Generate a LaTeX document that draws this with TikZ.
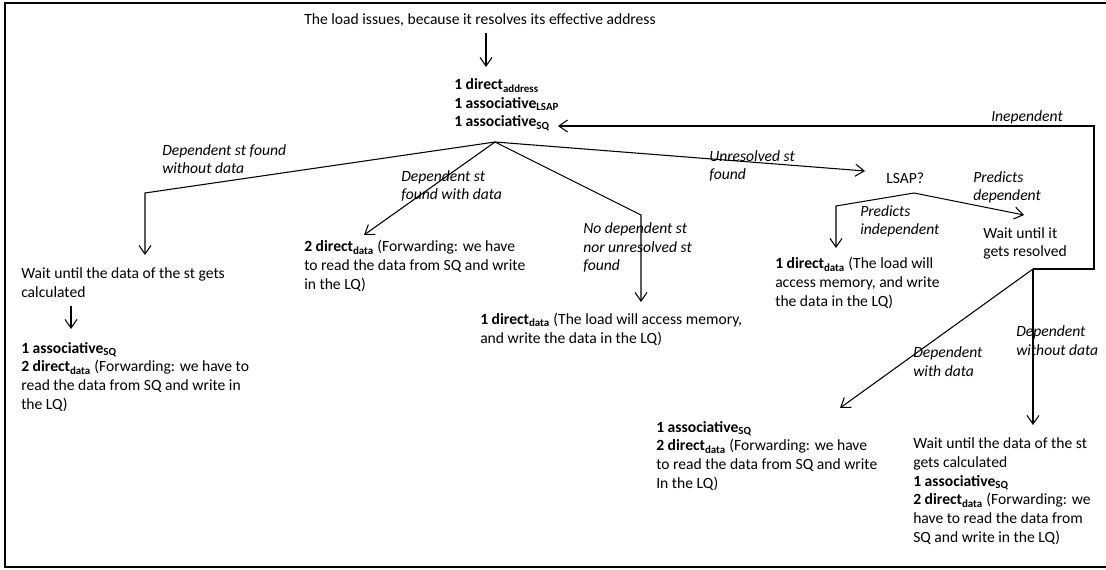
\documentclass[tikz,border=0pt]{standalone}
\usepackage{fontspec}
\setmainfont{Carlito}
\usetikzlibrary{arrows.meta}
\newcommand\subtx[1]{\textsubscript{\bfseries #1}}

\begin{document}
\begin{tikzpicture}[x=0.75pt,y=-0.75pt,
  txt/.style={anchor=base west,inner sep=0pt,align=left,font=\fontsize{11.7}{14}\selectfont},
  lbl/.style={txt,font=\fontsize{11.7}{14}\selectfont\itshape},
  flow/.style={line width=0.8pt,-{Straight Barb[length=6.5pt,width=9pt]}},
  seg/.style={line width=0.8pt}]
\useasboundingbox (0,0) rectangle (1106,570);
% Frame (open on the right)
\draw[line width=1.6pt] (1106,3) -- (5,3) -- (5,567) -- (1106,567);

% Load issue and first lookups (nodes placed by their last baseline)
\node[txt] (issue) at (304,25) {The load issues, because it resolves its effective address};
\node[txt] (ops) at (454,127) {\textbf{1 direct}\subtx{address}\\\textbf{1 associative}\subtx{LSAP}\\\textbf{1 associative}\subtx{SQ}};
\coordinate (issueOut) at (486,33);
\coordinate (opsIn) at (486,67);
\draw[flow] (issueOut) -- (opsIn);

% Branches from the SQ lookup
\coordinate (apex) at (495,142);
\coordinate (bendL) at (145,193);
\coordinate (bendM) at (641,215);
\node[lbl] (lblWithout) at (162,174) {Dependent st found\\without data};
\node[lbl] (lblWith) at (401,200) {Dependent st\\found with data};
\node[lbl] (lblNone) at (583,271) {No dependent st\\nor unresolved st\\found};
\node[lbl] (lblUnres) at (709,180) {Unresolved st\\found};

\node[txt] (waitL) at (21,297) {Wait until the data of the st gets\\calculated};
\node[txt] (assocL) at (21,409) {\textbf{1 associative}\subtx{SQ}\\\textbf{2 direct}\subtx{data} (Forwarding: we have to\\read the data from SQ and write in\\the LQ)};
\node[txt] (fwd) at (304,289) {\textbf{2 direct}\subtx{data} (Forwarding: we have\\to read the data from SQ and write\\in the LQ)};
\node[txt] (memMid) at (480,343) {\textbf{1 direct}\subtx{data} (The load will access memory,\\and write the data in the LQ)};
\node[txt] (lsap) at (886,184) {LSAP?};

\draw[flow] (apex) -- (bendL) -- (145,255);
\draw[flow] (apex) -- (364,235);
\draw[flow] (apex) -- (bendM) -- (641,302);
\draw[flow] (apex) -- (865,171);
\draw[flow] (71,306) -- (71,329);

% LSAP prediction
\coordinate (lsapOut) at (914,193);
\coordinate (bendP) at (836,206);
\node[lbl] (lblPind) at (860,235) {Predicts\\independent};
\node[lbl] (lblPdep) at (973,201) {Predicts\\dependent};
\node[txt] (memR) at (775,306) {\textbf{1 direct}\subtx{data} (The load will\\access memory, and write\\the data in the LQ)};
\node[txt] (waitR) at (983,257) {Wait until it\\gets resolved};
\draw[flow] (lsapOut) -- (bendP) -- (836,248);
\draw[flow] (lsapOut) -- (1024,215);

% After the store resolves
\coordinate (resolved) at (1033,269);
\coordinate (loopR) at (1094,269);
\coordinate (loopTop) at (1094,126);
\node[lbl] (lblInep) at (991,122) {Inependent};
\node[lbl] (lblDwith) at (913,376) {Dependent\\with data};
\node[lbl] (lblDwo) at (1016,355) {Dependent\\without data};
\node[txt] (fwdR) at (656,488) {\textbf{1 associative}\subtx{SQ}\\\textbf{2 direct}\subtx{data} (Forwarding: we have\\to read the data from SQ and write\\In the LQ)};
\node[txt] (waitR2) at (913,542) {Wait until the data of the st\\gets calculated\\\textbf{1 associative}\subtx{SQ}\\\textbf{2 direct}\subtx{data} (Forwarding: we\\have to read the data from\\SQ and write in the LQ)};
\draw[flow] (resolved) -- (loopR) -- (loopTop) -- (558,126);
\draw[flow] (resolved) -- (840,408);
\draw[flow] (resolved) -- (1033,425);
\end{tikzpicture}
\end{document}
